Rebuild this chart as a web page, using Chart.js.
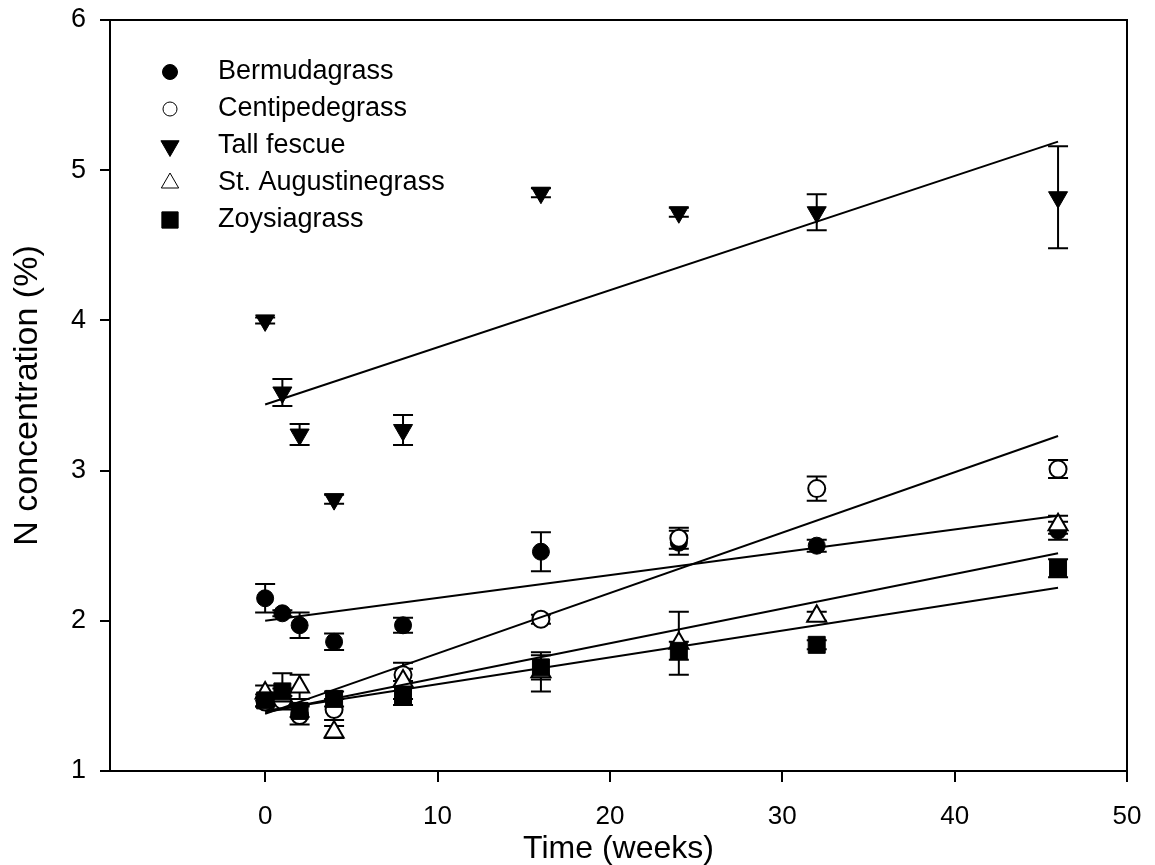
<!DOCTYPE html>
<html>
<head>
<meta charset="utf-8">
<script src="https://cdn.jsdelivr.net/npm/chart.js@4.4.0/dist/chart.umd.min.js"></script>
<style>
  body { margin: 0; background: #fff; }
</style>
</head>
<body>
<canvas id="c" width="1155" height="865"></canvas>
<script>
// sampling times (weeks)
const weeks = [0, 1, 2, 4, 8, 16, 24, 32, 46];

// N concentration (%) means and error bars
const bermuda      = [2.15, 2.05, 1.97, 1.86, 1.97, 2.46, 2.52, 2.50, 2.60];
const bermudaErr   = [0.095, 0.02, 0.085, 0.055, 0.05, 0.13, 0.08, 0.04, 0.06];
const centipede    = [1.46, 1.47, 1.37, 1.41, 1.64, 2.01, 2.55, 2.88, 3.01];
const centipedeErr = [0.03, 0.03, 0.06, 0.07, 0.04, 0.03, 0.07, 0.08, 0.06];
const tallFescue   = [4.00, 3.52, 3.24, 2.81, 3.27, 4.85, 4.72, 4.72, 4.82];
const tallErr      = [0.02, 0.09, 0.07, 0.03, 0.10, 0.03, 0.03, 0.12, 0.34];
const stAugustine  = [1.52, 1.50, 1.56, 1.26, 1.60, 1.66, 1.85, 2.03, 2.64];
const stAugErr     = [0.05, 0.05, 0.08, 0.04, 0.12, 0.13, 0.21, 0.03, 0.06];
const zoysia       = [1.47, 1.53, 1.40, 1.48, 1.50, 1.69, 1.80, 1.84, 2.35];
const zoysiaErr    = [0.04, 0.12, 0.04, 0.05, 0.06, 0.08, 0.06, 0.03, 0.06];

// regression lines (value at first and last week)
const fitWeeks     = [0, 46];
const bermudaFit   = [2.00, 2.70];
const centipedeFit = [1.38, 3.23];
const tallFit      = [3.44, 5.19];
const stAugFit     = [1.39, 2.45];
const zoysiaFit    = [1.40, 2.22];

const xTicks = [0, 10, 20, 30, 40, 50];
const yTicks = [1, 2, 3, 4, 5, 6];

const FONT = '"Liberation Sans", Arial, Helvetica, sans-serif';

const series = [
  { label: 'Bermudagrass', y: bermuda, err: bermudaErr, fit: bermudaFit,
    style: 'circle', rot: 0, fill: '#000', r: 8.5, lr: 7.5, order: 5 },
  { label: 'Centipedegrass', y: centipede, err: centipedeErr, fit: centipedeFit,
    style: 'circle', rot: 0, fill: '#fff', r: 8.5, lr: 7, order: 4 },
  { label: 'Tall fescue', y: tallFescue, err: tallErr, fit: tallFit,
    style: 'triangle', rot: 180, fill: '#000', r: 11, lr: 10.5, order: 3 },
  { label: 'St. Augustinegrass', y: stAugustine, err: stAugErr, fit: stAugFit,
    style: 'triangle', rot: 0, fill: '#fff', r: 11, lr: 10, order: 2 },
  { label: 'Zoysiagrass', y: zoysia, err: zoysiaErr, fit: zoysiaFit,
    style: 'rect', rot: 0, fill: '#000', r: 12, lr: 11.5, order: 1 },
];

const datasets = [];
series.forEach(s => {
  datasets.push({
    label: s.label,
    data: weeks.map((w, i) => ({ x: w, y: s.y[i] })),
    pointStyle: s.style,
    rotation: s.rot,
    pointRadius: s.r,
    backgroundColor: s.fill,
    borderColor: '#000',
    borderWidth: s.fill === '#fff' ? 2 : 1,
    order: s.order,
  });
});
series.forEach(s => {
  datasets.push({
    label: s.label + ' fit',
    data: fitWeeks.map((w, i) => ({ x: w, y: s.fit[i] })),
    showLine: true,
    pointRadius: 0,
    borderColor: '#000',
    borderWidth: 2,
    order: 0,
  });
});

// error bars under the symbols, plus the box frame
const errorBars = {
  id: 'errorBars',
  beforeDatasetsDraw(chart) {
    const { ctx, scales: { x, y }, chartArea: a } = chart;
    ctx.save();
    ctx.strokeStyle = '#000';
    ctx.lineWidth = 2;
    ctx.strokeRect(a.left, a.top, a.right - a.left, a.bottom - a.top);
    series.forEach(s => {
      weeks.forEach((w, i) => {
        const px = x.getPixelForValue(w);
        const top = y.getPixelForValue(s.y[i] + s.err[i]);
        const bot = y.getPixelForValue(s.y[i] - s.err[i]);
        ctx.beginPath();
        ctx.moveTo(px, top); ctx.lineTo(px, bot);
        ctx.moveTo(px - 10, top); ctx.lineTo(px + 10, top);
        ctx.moveTo(px - 10, bot); ctx.lineTo(px + 10, bot);
        ctx.stroke();
      });
    });
    ctx.restore();
  }
};

// legend drawn inside the plot, top left
const insideLegend = {
  id: 'insideLegend',
  afterDraw(chart) {
    const { ctx } = chart;
    ctx.save();
    ctx.font = '27px ' + FONT;
    ctx.textBaseline = 'middle';
    series.forEach((s, i) => {
      const yy = 72 + i * 37;
      ctx.fillStyle = s.fill;
      ctx.strokeStyle = '#000';
      Chart.helpers.drawPoint(ctx, {
        pointStyle: s.style, radius: s.lr, rotation: s.rot,
        borderWidth: s.fill === '#fff' ? 2 : 1
      }, 170, yy);
      ctx.fillStyle = '#000';
      ctx.fillText(s.label, 218, yy);
    });
    ctx.restore();
  }
};

new Chart(document.getElementById('c'), {
  type: 'scatter',
  data: { datasets },
  plugins: [errorBars, insideLegend],
  options: {
    responsive: false,
    animation: false,
    devicePixelRatio: 1,
    events: [],
    layout: { padding: { top: 20, right: 28, left: 0, bottom: 0 } },
    plugins: { legend: { display: false }, tooltip: { enabled: false } },
    scales: {
      x: {
        type: 'linear', min: -9, max: 50,
        afterBuildTicks: s => { s.ticks = xTicks.map(v => ({ value: v })); },
        afterFit: s => { s.height = 94; s.paddingLeft = 0; s.paddingRight = 0; },
        grid: { drawOnChartArea: false, color: '#000', lineWidth: 2, tickLength: 11 },
        border: { color: '#000', width: 2 },
        ticks: { color: '#000', font: { family: FONT, size: 26 }, padding: 19, maxRotation: 0 },
        title: { display: true, text: 'Time (weeks)', color: '#000',
                 font: { family: FONT, size: 32, lineHeight: 1 }, padding: { top: 0, bottom: 0 } }
      },
      y: {
        type: 'linear', min: 1, max: 6,
        afterBuildTicks: s => { s.ticks = yTicks.map(v => ({ value: v })); },
        afterFit: s => { s.width = 110; s.paddingTop = 0; s.paddingBottom = 0; },
        grid: { drawOnChartArea: false, color: '#000', lineWidth: 2, tickLength: 10 },
        border: { color: '#000', width: 2 },
        ticks: { color: '#000', font: { family: FONT, size: 27 }, padding: 14 },
        title: { display: true, text: 'N concentration (%)', color: '#000',
                 font: { family: FONT, size: 34, lineHeight: 1 }, padding: { top: 11, bottom: 0 } }
      }
    }
  }
});
</script>
</body>
</html>
